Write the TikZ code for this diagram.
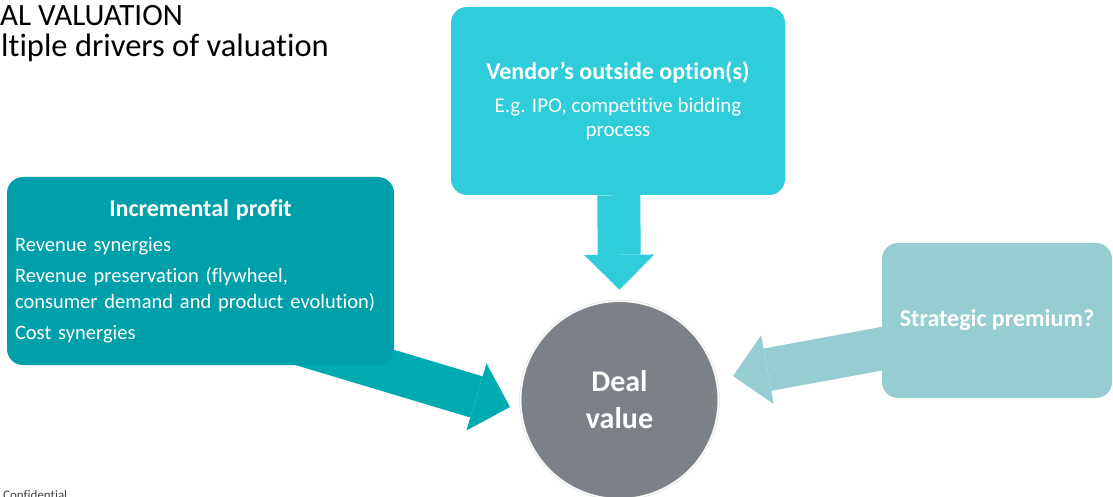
\documentclass[tikz,border=0pt]{standalone}
\usepackage{fontspec}
\setmainfont[Ligatures=NoCommon]{Carlito}
\usetikzlibrary{arrows.meta, calc, backgrounds}

\definecolor{vendorcyan}{RGB}{47,205,217}
\definecolor{profitteal}{RGB}{0,160,170}
\definecolor{profitarrow}{RGB}{0,170,177}
\definecolor{premiumteal}{RGB}{150,205,210}
\definecolor{dealgray}{RGB}{123,129,135}

\tikzset{
  box/.style={rectangle, rounded corners=16pt, text=white, inner sep=9pt},
  fat/.style={line width=43pt, -{Triangle[length=35pt, width=70pt, line width=0pt]}},
}

\begin{document}
\begin{tikzpicture}[x=1pt, y=-1pt]
\useasboundingbox (0,0) rectangle (1113,497);
% heading
\node[anchor=base west, inner sep=0, font=\fontsize{31}{36}\selectfont] (head) at (0,26) {AL VALUATION};
\node[anchor=base west, inner sep=0, font=\fontsize{32.5}{36}\selectfont] (subhead) at (1,57) {ltiple drivers of valuation};
\node[anchor=base west, inner sep=0, font=\fontsize{13}{15}\selectfont, text=black!75] (conf) at (3,499) {Confidential};
% drivers
\node[box, fill=vendorcyan, minimum width=334pt, minimum height=188pt, align=center,
      font=\fontsize{21}{24}\selectfont] (vendor) at (618,101)
  {\textbf{\fontsize{24}{24}\selectfont Vendor’s outside option(s)}\\[9pt]
   E.g. IPO, competitive bidding\\ process};
\node[box, fill=profitteal, minimum width=387pt, minimum height=188pt, text width=371pt, inner xsep=8pt,
      align=left, font=\fontsize{20.5}{26}\selectfont] (profit) at (200.5,271)
  {\hfill\textbf{\fontsize{24}{26}\selectfont Incremental profit}\hfill\null\\[9pt]
   Revenue synergies\\[5pt]
   Revenue preservation (flywheel,\\
   \mbox{consumer demand and product evolution)}\\[5pt]
   Cost synergies};
\node[box, fill=premiumteal, minimum width=230pt, minimum height=155pt,
      font=\bfseries\fontsize{24}{26}\selectfont] (premium) at (997,320.5) {Strategic premium?};
\node[circle, fill=dealgray, minimum size=198pt, draw=black!15, line width=0.5pt, double=white,
      double distance=1.2pt, text=white, align=center,
      font=\bfseries\fontsize{30}{37}\selectfont] (deal) at (619.5,400) {Deal\\value};
% arrows into deal value
\coordinate (tipL) at ($(deal)+(-109.5,7)$);
\coordinate (tipR) at ($(deal)+(113.5,-24)$);
\begin{scope}[on background layer]
\draw[fat, vendorcyan] (vendor) -- ([yshift=11pt]deal.north);
\draw[fat, profitarrow] ($(tipL)+(196.7:260)$) -- (tipL);
\draw[fat, premiumteal] ($(tipR)+(-10.4:220)$) -- (tipR);
\end{scope}
\end{tikzpicture}
\end{document}
